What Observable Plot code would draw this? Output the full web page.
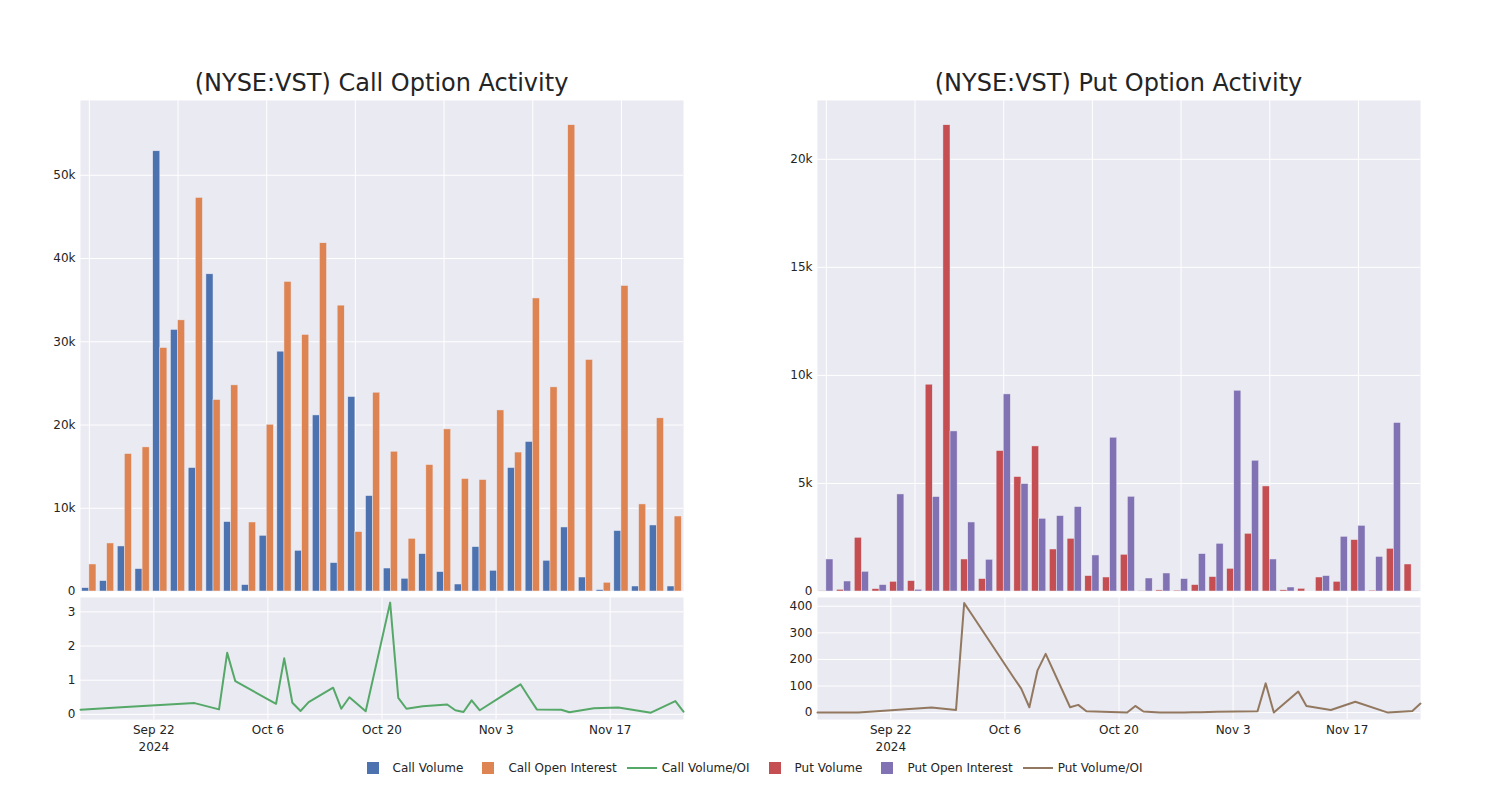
<!DOCTYPE html>
<html>
<head>
<meta charset="utf-8">
<script src="https://cdn.jsdelivr.net/npm/d3@7"></script>
<script src="https://cdn.jsdelivr.net/npm/@observablehq/plot@0.6"></script>
<style>
  body { margin: 0; background: #fff; font-family: "DejaVu Sans", sans-serif; }
  #root { position: relative; width: 1500px; height: 800px; overflow: hidden; background: #fff; }
  .panel { position: absolute; }
  .title { position: absolute; font-size: 24px; line-height: 24px; color: #242424; text-align: center; white-space: nowrap; }
  #legend { position: absolute; top: 760px; left: 0; width: 1500px; height: 16px; display: flex; justify-content: center; align-items: center; font-size: 12px; color: #242424; }
  .item { position: relative; padding-left: 40px; margin-right: 5px; line-height: 16px; white-space: nowrap; }
  .sq { position: absolute; left: 14px; top: 2px; width: 12px; height: 12px; }
  .ln { position: absolute; left: 5px; top: 7px; width: 30px; height: 2px; }
</style>
</head>
<body>
<div id="root">
  <div class="title" id="t1" style="left:80px;width:603px;top:71px;"></div>
  <div class="title" id="t2" style="left:817px;width:603px;top:71px;"></div>
  <div class="panel" id="callBars" style="left:0px;top:90px;"></div>
  <div class="panel" id="callLine" style="left:0px;top:590px;"></div>
  <div class="panel" id="putBars" style="left:737px;top:90px;"></div>
  <div class="panel" id="putLine" style="left:737px;top:590px;"></div>
  <div id="legend"></div>
</div>
<script>
// ---- data ----
const titles = ["(NYSE:VST) Call Option Activity", "(NYSE:VST) Put Option Activity"];

const dates = ["2024-09-13","2024-09-18","2024-09-27","2024-09-30","2024-10-01","2024-10-02",
  "2024-10-07","2024-10-08","2024-10-09","2024-10-10","2024-10-11","2024-10-14","2024-10-15",
  "2024-10-16","2024-10-18","2024-10-21","2024-10-22","2024-10-23","2024-10-25","2024-10-28",
  "2024-10-29","2024-10-30","2024-10-31","2024-11-01","2024-11-06","2024-11-07","2024-11-08",
  "2024-11-11","2024-11-12","2024-11-15","2024-11-18","2024-11-22","2024-11-25","2024-11-26"];

const callVolume = [400, 1250, 5410, 2690, 52880, 31420, 14830, 38100, 8340, 770, 6690, 28810,
  4890, 21150, 3410, 23360, 11460, 2760, 1530, 4490, 2330, 840, 5330, 2490, 14830, 17960,
  3690, 7690, 1680, 170, 7260, 600, 7930, 600];
const callOpenInterest = [3245, 5770, 16510, 17310, 29250, 32570, 47280, 23000, 24760, 8290,
  20030, 37190, 30820, 41830, 34340, 7140, 23880, 16790, 6330, 15190, 19470, 13510, 13390,
  21750, 16690, 35200, 24520, 56010, 27810, 1050, 36700, 10460, 20800, 9010];
const callVolOI = [0.136, 0.21, 0.33, 0.146, 1.80, 0.97, 0.31, 1.64, 0.34, 0.10, 0.36, 0.78,
  0.165, 0.50, 0.09, 3.27, 0.48, 0.165, 0.24, 0.29, 0.12, 0.07, 0.41, 0.12, 0.88, 0.51,
  0.146, 0.136, 0.06, 0.18, 0.20, 0.05, 0.39, 0.08];

const putVolume = [10, 80, 2486, 110, 449, 481, 9570, 21574, 1481, 574, 6500, 5296, 6713, 1944,
  2440, 713, 648, 1700, 10, 50, 40, 296, 667, 1051, 2671, 4861, 55, 125, 648, 449, 2380, 40,
  1976, 1250];
const putOpenInterest = [1481, 463, 912, 296, 4491, 80, 4370, 7407, 3194, 1468, 9120, 4972,
  3366, 3490, 3907, 1667, 7116, 4384, 602, 833, 574, 1731, 2208, 9290, 6051, 1481, 185, 0,
  713, 2532, 3040, 1600, 7796, 10];
const putVolOI = [0, 0.5, 19, 10, 412, 366, 135, 90, 20, 159, 221, 20, 29, 5, 3, 0, 25, 4, 0,
  0.5, 1, 1.5, 2, 3, 5, 110, 0, 79, 25, 10, 41, 0, 6, 34];

const callBarTicks = [0, 10000, 20000, 30000, 40000, 50000];
const putBarTicks = [0, 5000, 10000, 15000, 20000];
const callLineTicks = [0, 1, 2, 3];
const putLineTicks = [0, 100, 200, 300, 400];
const dateTicks = ["2024-09-22", "2024-10-06", "2024-10-20", "2024-11-03", "2024-11-17"];
const categoryGrid = [0, 5, 10, 15, 20, 25, 30];

const legendItems = [
  {label: "Call Volume", color: "#4C72B0", kind: "sq"},
  {label: "Call Open Interest", color: "#DD8452", kind: "sq"},
  {label: "Call Volume/OI", color: "#55A868", kind: "ln"},
  {label: "Put Volume", color: "#C44E52", kind: "sq"},
  {label: "Put Open Interest", color: "#8172B3", kind: "sq"},
  {label: "Put Volume/OI", color: "#937860", kind: "ln"}
];

// ---- drawing ----
const BG = "#EAEAF2";
const TXT = "#242424";
const baseStyle = {background: "transparent", overflow: "visible", fontFamily: "DejaVu Sans", fontSize: "12px", color: TXT};
const kfmt = d => d === 0 ? "0" : (d / 1000) + "k";
const idx = d3.range(dates.length);

function barPanel(vol, oi, volColor, oiColor, yMax, yTicks) {
  const rows = idx.map(i => ({i, v: vol[i], o: oi[i]}));
  return Plot.plot({
    width: 700, height: 501,
    marginLeft: 80, marginRight: 17, marginTop: 10, marginBottom: 0,
    style: baseStyle,
    x: {domain: [-0.5, dates.length - 0.5], axis: null, label: null},
    y: {domain: [0, yMax], axis: null, label: null},
    marks: [
      Plot.frame({fill: BG, stroke: null}),
      Plot.gridX(categoryGrid, {stroke: "white", strokeOpacity: 1, strokeWidth: 1}),
      Plot.gridY(yTicks, {stroke: "white", strokeOpacity: 1, strokeWidth: 1}),
      Plot.axisY(yTicks, {tickSize: 0, tickPadding: 5, tickFormat: kfmt, fontSize: 12, fill: TXT, label: null}),
      Plot.rectY(rows, {x1: d => d.i - 0.4, x2: d => d.i, y: "v", fill: volColor, stroke: BG, strokeWidth: 0.5}),
      Plot.rectY(rows, {x1: d => d.i, x2: d => d.i + 0.4, y: "o", fill: oiColor, stroke: BG, strokeWidth: 0.5})
    ]
  });
}

function linePanel(vals, color, yDomain, yTicks) {
  const rows = idx.map(i => ({date: new Date(dates[i]), r: vals[i]}));
  const tickDates = dateTicks.map(s => new Date(s));
  const mdy = d3.utcFormat("%b %-d");
  const fmt = (d, i) => i === 0 ? mdy(d) + "\n" + d.getUTCFullYear() : mdy(d);
  return Plot.plot({
    width: 700, height: 170,
    marginLeft: 80, marginRight: 17, marginTop: 7, marginBottom: 41,
    style: baseStyle,
    x: {type: "utc", domain: [rows[0].date, rows[rows.length - 1].date], axis: null, label: null},
    y: {domain: yDomain, axis: null, label: null},
    marks: [
      Plot.frame({fill: BG, stroke: null}),
      Plot.gridX(tickDates, {stroke: "white", strokeOpacity: 1, strokeWidth: 1}),
      Plot.gridY(yTicks, {stroke: "white", strokeOpacity: 1, strokeWidth: 1}),
      Plot.axisX(tickDates, {tickSize: 0, tickPadding: 3, tickFormat: fmt, fontSize: 12, lineHeight: 1.4, fill: TXT, label: null}),
      Plot.axisY(yTicks, {tickSize: 0, tickPadding: 5, fontSize: 12, fill: TXT, label: null}),
      Plot.lineY(rows, {x: "date", y: "r", stroke: color, strokeWidth: 2})
    ]
  });
}

document.getElementById("t1").textContent = titles[0];
document.getElementById("t2").textContent = titles[1];
document.getElementById("callBars").append(barPanel(callVolume, callOpenInterest, "#4C72B0", "#DD8452", 58980, callBarTicks));
document.getElementById("callLine").append(linePanel(callVolOI, "#55A868", [-0.15, 3.42], callLineTicks));
document.getElementById("putBars").append(barPanel(putVolume, putOpenInterest, "#C44E52", "#8172B3", 22720, putBarTicks));
document.getElementById("putLine").append(linePanel(putVolOI, "#937860", [-26, 433], putLineTicks));

const legend = document.getElementById("legend");
for (const it of legendItems) {
  const el = document.createElement("div");
  el.className = "item";
  const sym = document.createElement("span");
  sym.className = it.kind;
  sym.style.background = it.color;
  el.append(sym, document.createTextNode(it.label));
  legend.append(el);
}
</script>
</body>
</html>
